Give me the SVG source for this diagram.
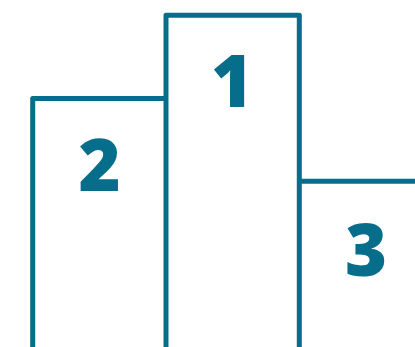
<svg xmlns="http://www.w3.org/2000/svg" width="415" height="347" viewBox="0 0 415 347">
<style>
.step{fill:none;stroke:#066d8b;stroke-width:5;stroke-linejoin:round;stroke-linecap:butt}
.num{fill:#066d8b;font-family:"Open Sans","Liberation Sans",sans-serif;font-weight:800;font-size:72px;text-anchor:middle}
</style>
<rect width="415" height="347" fill="#ffffff"/>
<g id="place-2">
<path class="step" d="M32.7,349 V98.5 H166"/>
<text class="num" x="99.5" y="190.7">2</text>
</g>
<g id="place-1">
<path class="step" d="M166,349 V15.3 H299.3 V349"/>
<text class="num" x="232" y="107.3">1</text>
</g>
<g id="place-3">
<path class="step" d="M299.3,181.3 H418"/>
<text class="num" x="366" y="275.5">3</text>
</g>
</svg>
